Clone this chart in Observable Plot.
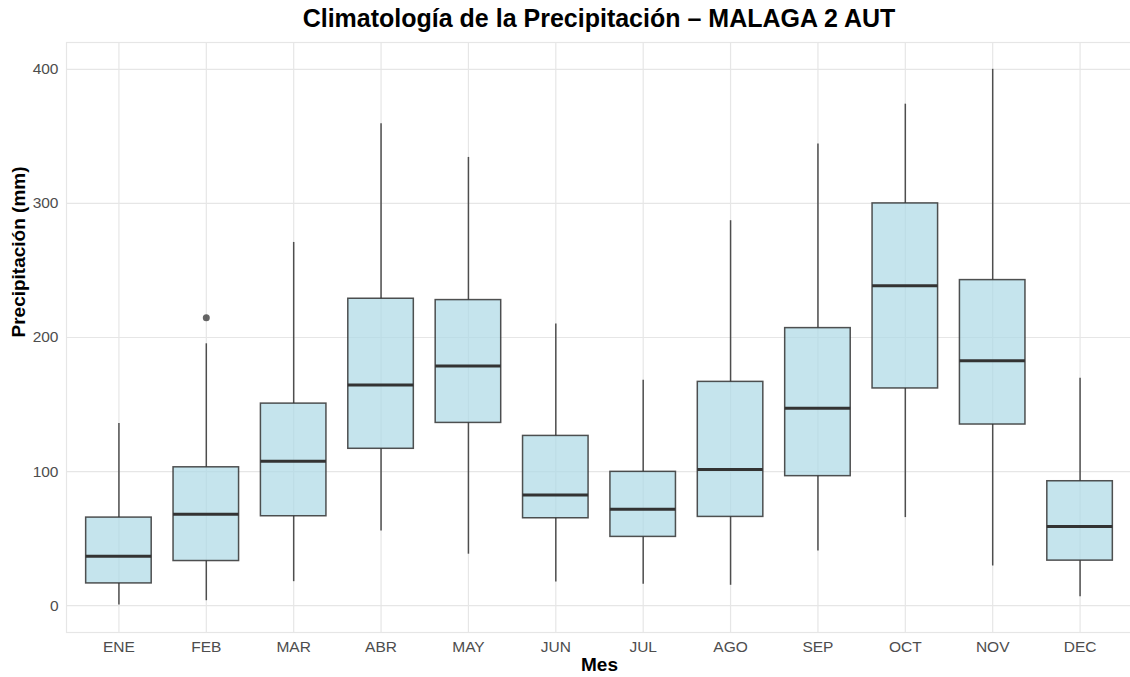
<!DOCTYPE html>
<html>
<head>
<meta charset="utf-8">
<script src="https://cdn.jsdelivr.net/npm/d3@7"></script>
<script src="https://cdn.jsdelivr.net/npm/@observablehq/plot@0.6"></script>
<style>
  html, body { margin: 0; padding: 0; background: #ffffff; }
  body { width: 1130px; height: 677px; overflow: hidden; font-family: "Liberation Sans", Arial, sans-serif; }
  #title { height: 36px; line-height: 36px; padding-left: 66px; width: 1066px; text-align: center;
           font-size: 25px; font-weight: bold; color: #000; white-space: nowrap; }
  #chart svg { display: block; overflow: visible; }
</style>
</head>
<body>
<div id="title">Climatología de la Precipitación – MALAGA 2 AUT</div>
<div id="chart"></div>
<script>
const meses   = ["ENE","FEB","MAR","ABR","MAY","JUN","JUL","AGO","SEP","OCT","NOV","DEC"];
const minimo  = [0.5, 3.7, 17.9, 55.7, 38.4, 17.7, 16.0, 15.2, 40.8, 65.7, 29.6, 6.7];
const q1      = [16.6, 33.3, 66.7, 117.0, 136.3, 65.2, 51.3, 66.2, 96.6, 162.0, 135.1, 33.6];
const mediana = [36.8, 68.1, 107.7, 164.5, 178.7, 82.6, 71.9, 101.5, 147.3, 238.6, 182.6, 59.0];
const q3      = [65.7, 103.2, 150.7, 228.9, 227.9, 126.6, 99.8, 166.9, 207.0, 300.0, 242.8, 92.8];
const maximo  = [135.8, 195.3, 270.9, 359.5, 334.3, 210.0, 168.2, 287.1, 344.3, 374.0, 400.0, 169.7];
const outlierMes   = ["FEB"];
const outlierValor = [214.7];
const yTicks = [0, 100, 200, 300, 400];

const data = meses.map((m, i) => ({mes: m, min: minimo[i], q1: q1[i], med: mediana[i], q3: q3[i], max: maximo[i]}));
const outliers = outlierMes.map((m, i) => ({mes: m, v: outlierValor[i]}));

const grid = "#e6e6e6";
const chart = Plot.plot({
  width: 1130,
  height: 641,
  marginLeft: 66,
  marginRight: -2,
  marginTop: 6,
  marginBottom: 45,
  style: { fontFamily: "'Liberation Sans', Arial, sans-serif", background: "#ffffff", overflow: "visible" },
  x: { type: "band", domain: meses, paddingInner: 0.25, paddingOuter: 0.225, round: false, axis: null },
  y: { domain: [-20, 420], axis: null },
  marks: [
    Plot.frame({ stroke: grid, strokeWidth: 1.2 }),
    Plot.gridY(yTicks, { stroke: grid, strokeOpacity: 1, strokeWidth: 1.2 }),
    Plot.gridX(meses, { stroke: grid, strokeOpacity: 1, strokeWidth: 1.2 }),
    Plot.ruleX(data, { x: "mes", y1: "min", y2: "q1", stroke: "#333333", strokeOpacity: 0.85, strokeWidth: 1.5 }),
    Plot.ruleX(data, { x: "mes", y1: "q3", y2: "max", stroke: "#333333", strokeOpacity: 0.85, strokeWidth: 1.5 }),
    Plot.barY(data, { x: "mes", y1: "q1", y2: "q3", fill: "#ADD8E6", fillOpacity: 0.7, stroke: "#333333", strokeOpacity: 0.85, strokeWidth: 1.5 }),
    Plot.tickY(data, { x: "mes", y: "med", stroke: "#333333", strokeWidth: 3 }),
    Plot.dot(outliers, { x: "mes", y: "v", r: 3.5, fill: "#333333", fillOpacity: 0.75, stroke: "none" }),
    Plot.axisY(yTicks, { tickSize: 0, tickPadding: 8, fontSize: 15.5, fill: "#4d4d4d", label: null }),
    Plot.axisX(meses, { tickSize: 0, tickPadding: 8, fontSize: 15.5, fill: "#4d4d4d", label: null }),
    Plot.text(["Mes"], { frameAnchor: "bottom", dy: 32, lineAnchor: "middle", fontSize: 19, fontWeight: "bold", fill: "#000" }),
    Plot.text(["Precipitación (mm)"], { frameAnchor: "left", dx: -48, rotate: -90, lineAnchor: "middle", fontSize: 19, fontWeight: "bold", fill: "#000" })
  ]
});
document.getElementById("chart").appendChild(chart);
</script>
</body>
</html>
